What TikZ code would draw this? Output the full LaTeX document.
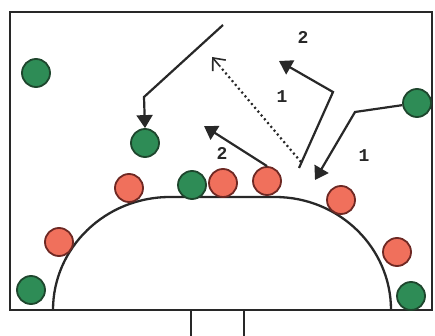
\documentclass[tikz,border=0pt]{standalone}
\usepackage{fontspec}
\setmonofont{Liberation Mono}
\usetikzlibrary{arrows.meta,calc}
\definecolor{att}{RGB}{46,140,86}
\definecolor{attline}{RGB}{30,70,45}
\definecolor{def}{RGB}{240,112,92}
\definecolor{defline}{RGB}{110,40,35}
\definecolor{ink}{RGB}{40,40,40}
\begin{document}
\begin{tikzpicture}[x=1pt,y=-1pt,
  attacker/.style={circle,draw=attline,fill=att,line width=1.8pt,minimum size=28pt,inner sep=0pt},
  defender/.style={circle,draw=defline,fill=def,line width=1.8pt,minimum size=28pt,inner sep=0pt},
  move/.style={draw=ink,line width=2.2pt,-{Triangle[length=13pt,width=16pt]}},
  pass/.style={draw=ink,line width=2.2pt,dash pattern=on 2pt off 3pt},
  passtip/.style={draw=ink,line width=1.6pt,-{Straight Barb[length=10pt,width=17pt]}},
  court/.style={draw=ink,line width=2.3pt},
  lbl/.style={font=\ttfamily\bfseries\fontsize{18}{18}\selectfont,text=ink,inner sep=0pt}]
\useasboundingbox (0,0) rectangle (435,336);
\fill[white] (0,0) rectangle (435,336);
% court
\draw[court] (10,12) rectangle (432,310);
\draw[court] (53,310) arc[start angle=180,end angle=270,x radius=117,y radius=113]
  -- (275,197) arc[start angle=270,end angle=360,x radius=116,y radius=113];
\draw[court] (191,310) -- (191,340);
\draw[court] (244,310) -- (244,340);
% attackers
\node[attacker] (g1) at (36,73) {};
\node[attacker] (g2) at (145,143) {};
\node[attacker] (g3) at (417,103) {};
\node[attacker] (g4) at (192,185) {};
\node[attacker] (g5) at (31,290) {};
\node[attacker] (g6) at (411,296) {};
% defenders
\node[defender] (r1) at (129,188) {};
\node[defender] (r2) at (59,242) {};
\node[defender] (r3) at (223,183) {};
\node[defender] (r4) at (267,181) {};
\node[defender] (r5) at (341,200) {};
\node[defender] (r6) at (397,252) {};
% movement points
\coordinate (a1s) at (223,25);
\coordinate (a1m) at (144,97);
\coordinate (p1) at (301,162);
\coordinate (p2) at (212,57);
\coordinate (p3) at ($(p2)!12pt!(p1)$);
\coordinate (b1) at (299,168);
\coordinate (b2) at (333,92);
\coordinate (b3) at (279,61);
\coordinate (c1) at (355,112);
\coordinate (c2) at (315,180);
\coordinate (d2) at (204,126);
% arrows
\draw[move] (a1s) -- (a1m) -- (g2.north);
\draw[pass] (p1) -- (p3);
\draw[passtip] (p3) -- (p2);
\draw[move] (b1) -- (b2) -- (b3);
\draw[move] (g3) -- (c1) -- (c2);
\draw[move] (r4.north) -- (d2);
% labels
\node[lbl] (l1) at (303,37) {2};
\node[lbl] (l2) at (282,97) {1};
\node[lbl] (l3) at (364,156) {1};
\node[lbl] (l4) at (222,153) {2};
\end{tikzpicture}
\end{document}
